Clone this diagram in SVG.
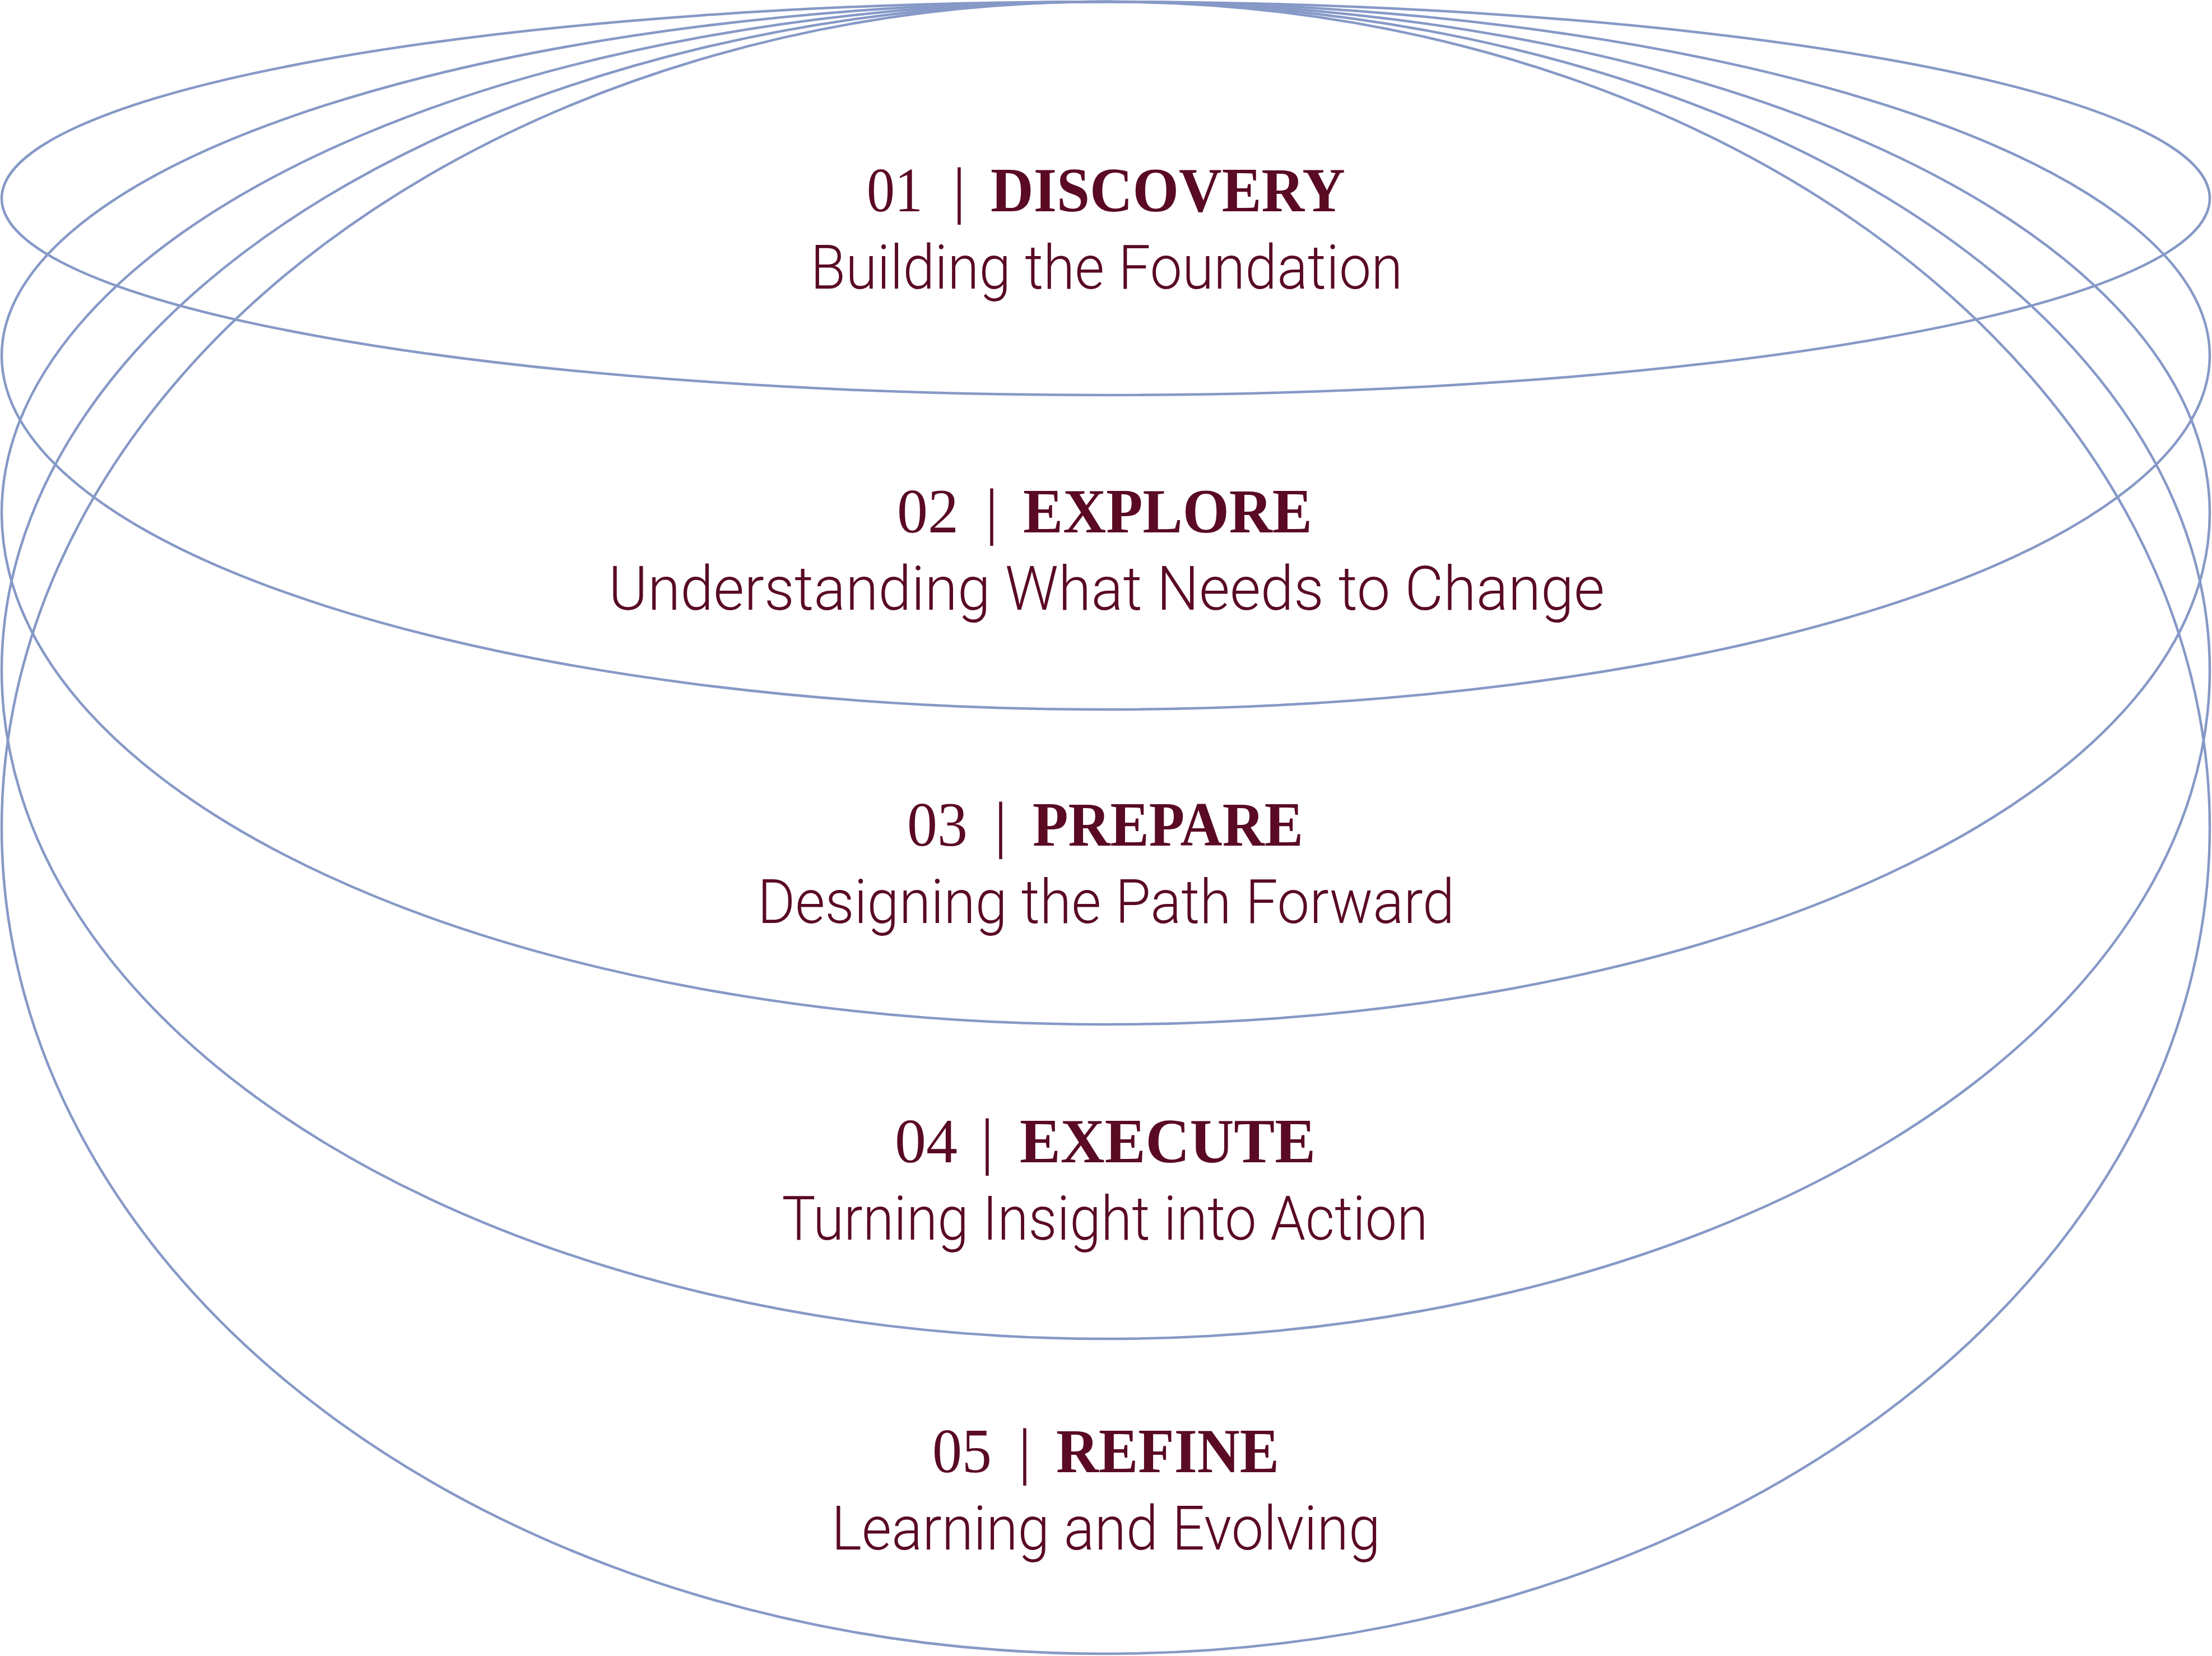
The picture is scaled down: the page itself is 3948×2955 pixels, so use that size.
<svg xmlns="http://www.w3.org/2000/svg" width="3948" height="2955" viewBox="0 0 3948 2955">
<style>
.ring{fill:none;stroke:#8699C7;stroke-width:4.5}
.t{font-family:"Liberation Serif","Times New Roman",serif;font-size:112px;fill:#5A0A23}
.n{text-anchor:start}
.bar{text-anchor:middle}
.b{font-weight:bold;text-anchor:start}
.s{font-family:Roboto,"Liberation Sans",sans-serif;font-weight:300;font-size:110px;fill:#5A0A23;text-anchor:middle}
</style>
<rect width="3948" height="2955" fill="#ffffff"/>
<g id="rings">
<ellipse id="ring5" class="ring" cx="1973.5" cy="1477" rx="1970.5" ry="1474"/>
<ellipse id="ring4" class="ring" cx="1973.5" cy="1196" rx="1970.5" ry="1193"/>
<ellipse id="ring3" class="ring" cx="1973.5" cy="915.5" rx="1970.5" ry="912.5"/>
<ellipse id="ring2" class="ring" cx="1973.5" cy="634.5" rx="1970.5" ry="631.5"/>
<ellipse id="ring1" class="ring" cx="1973.5" cy="354" rx="1970.5" ry="351"/>
</g>
<g id="stage1">
<text class="t n" x="1547" y="377" textLength="100" lengthAdjust="spacingAndGlyphs">01</text>
<text class="t bar" x="1712" y="377">|</text>
<text class="t b" x="1768" y="377" textLength="633" lengthAdjust="spacingAndGlyphs">DISCOVERY</text>
<text class="s" x="1975" y="515" textLength="1057" lengthAdjust="spacingAndGlyphs">Building the Foundation</text>
</g>
<g id="stage2">
<text class="t n" x="1601" y="950" textLength="110" lengthAdjust="spacingAndGlyphs">02</text>
<text class="t bar" x="1770" y="950">|</text>
<text class="t b" x="1826" y="950" textLength="516" lengthAdjust="spacingAndGlyphs">EXPLORE</text>
<text class="s" x="1975" y="1088" textLength="1778" lengthAdjust="spacingAndGlyphs">Understanding What Needs to Change</text>
</g>
<g id="stage3">
<text class="t n" x="1619" y="1509" textLength="108" lengthAdjust="spacingAndGlyphs">03</text>
<text class="t bar" x="1786" y="1509">|</text>
<text class="t b" x="1843" y="1509" textLength="483" lengthAdjust="spacingAndGlyphs">PREPARE</text>
<text class="s" x="1974" y="1647" textLength="1244" lengthAdjust="spacingAndGlyphs">Designing the Path Forward</text>
</g>
<g id="stage4">
<text class="t n" x="1597" y="2074" textLength="112" lengthAdjust="spacingAndGlyphs">04</text>
<text class="t bar" x="1762" y="2074">|</text>
<text class="t b" x="1820" y="2074" textLength="528" lengthAdjust="spacingAndGlyphs">EXECUTE</text>
<text class="s" x="1972" y="2212" textLength="1153" lengthAdjust="spacingAndGlyphs">Turning Insight into Action</text>
</g>
<g id="stage5">
<text class="t n" x="1664" y="2627" textLength="106" lengthAdjust="spacingAndGlyphs">05</text>
<text class="t bar" x="1829" y="2627">|</text>
<text class="t b" x="1885" y="2627" textLength="398" lengthAdjust="spacingAndGlyphs">REFINE</text>
<text class="s" x="1974" y="2765" textLength="980" lengthAdjust="spacingAndGlyphs">Learning and Evolving</text>
</g>
</svg>
